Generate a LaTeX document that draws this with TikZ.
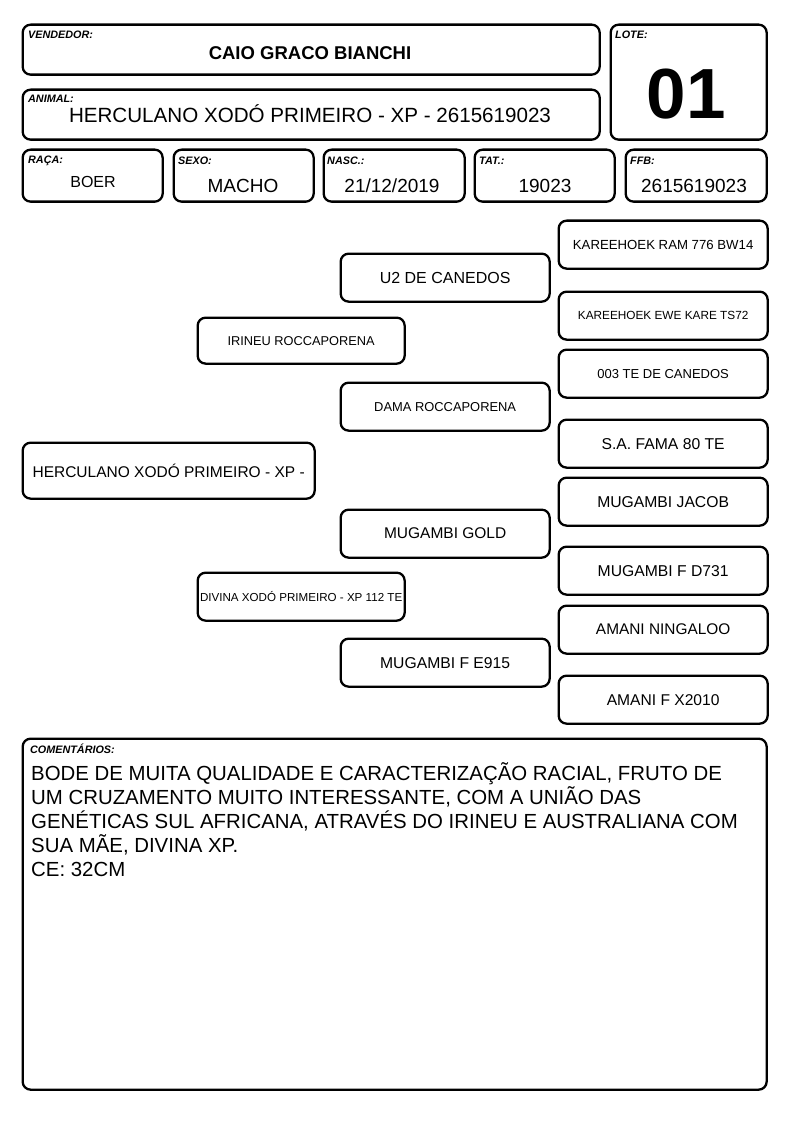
\documentclass[tikz,border=0pt]{standalone}
\usepackage{fontspec}
\setmainfont{Liberation Sans}
\usetikzlibrary{positioning}

\newcommand{\fsz}[1]{\fontsize{#1}{#1}\selectfont}

\tikzset{
  card/.style={draw, line width=2.3pt, rounded corners=8pt, anchor=north west, inner sep=0pt},
  pedbox/.style={card, minimum width=209pt, minimum height=48pt, align=center},
  fieldlbl/.style={anchor=base west, inner sep=0pt, font=\fsz{10.8}\bfseries\itshape},
  fieldval/.style={anchor=base, inner sep=0pt},
}

\begin{document}
\begin{tikzpicture}[x=1pt, y=-1pt]
  \useasboundingbox (0,0) rectangle (794,1123);

  % cabecalho
  \node[card, minimum width=577pt, minimum height=50pt] (vendedor) at (21.5,23.5) {};
  \node[card, minimum width=156pt, minimum height=115pt] (lote) at (609.5,23.5) {};
  \node[card, minimum width=577pt, minimum height=50pt] (animal) at (21.5,88.5) {};
  \node[card, minimum width=140pt, minimum height=52pt] (raca) at (21.5,148.5) {};
  \node[card, minimum width=140pt, minimum height=52pt] (sexo) at (172.5,148.5) {};
  \node[card, minimum width=141pt, minimum height=52pt] (nasc) at (322.5,148.5) {};
  \node[card, minimum width=140pt, minimum height=52pt] (tat) at (473.5,148.5) {};
  \node[card, minimum width=141pt, minimum height=52pt] (ffb) at (624.5,148.5) {};

  \node[fieldlbl] (lblvend) at (28,39) {VENDEDOR:};
  \node[fieldlbl] (lbllote) at (615,39) {LOTE:};
  \node[fieldlbl] (lblanim) at (28,103) {ANIMAL:};
  \node[fieldlbl] (lblraca) at (28,164) {RAÇA:};
  \node[fieldlbl] (lblsexo) at (178,165) {SEXO:};
  \node[fieldlbl] (lblnasc) at (327,165) {NASC.:};
  \node[fieldlbl] (lbltat) at (479,165) {TAT.:};
  \node[fieldlbl] (lblffb) at (630,165) {FFB:};

  \node[fieldval, font=\fsz{18.5}\bfseries] (valvend) at (310,60) {CAIO GRACO BIANCHI};
  \node[fieldval, font=\fsz{71}\bfseries] (vallote) at (686,119) {01};
  \node[fieldval, font=\fsz{20.6}] (valanim) at (310,123) {HERCULANO XODÓ PRIMEIRO - XP - 2615619023};
  \node[fieldval, font=\fsz{16}] (valraca) at (93,188) {BOER};
  \node[fieldval, font=\fsz{19}] (valsexo) at (243,193) {MACHO};
  \node[fieldval, font=\fsz{19}] (valnasc) at (392,193) {21/12/2019};
  \node[fieldval, font=\fsz{19}] (valtat) at (545,193) {19023};
  \node[fieldval, font=\fsz{19}] (valffb) at (694,193) {2615619023};

  % genealogia
  \node[pedbox, minimum width=292pt, minimum height=56pt, font=\fsz{15.5}] (filho) at (21.5,441.5) {HERCULANO XODÓ PRIMEIRO - XP -};
  \node[pedbox, minimum width=207pt, minimum height=46pt, font=\fsz{12.8}] (pai) at (196.5,316.5) {IRINEU ROCCAPORENA};
  \node[pedbox, minimum width=207pt, font=\fsz{11.6}] (mae) at (196.5,571.5) {DIVINA XODÓ PRIMEIRO - XP 112 TE};
  \node[pedbox, font=\fsz{16}] (avopp) at (339.5,252.5) {U2 DE CANEDOS};
  \node[pedbox, font=\fsz{12.9}] (avopm) at (339.5,381.5) {DAMA ROCCAPORENA};
  \node[pedbox, font=\fsz{15.5}] (avomp) at (339.5,508.5) {MUGAMBI GOLD};
  \node[pedbox, font=\fsz{15.7}] (avomm) at (339.5,637.5) {MUGAMBI F E915};
  \node[pedbox, font=\fsz{13.2}] (bis1) at (557.5,219.5) {KAREEHOEK RAM 776 BW14};
  \node[pedbox, font=\fsz{11.8}] (bis2) at (557.5,290.5) {KAREEHOEK EWE KARE TS72};
  \node[pedbox, font=\fsz{13}] (bis3) at (557.5,348.5) {003 TE DE CANEDOS};
  \node[pedbox, font=\fsz{15.7}] (bis4) at (557.5,418.5) {S.A. FAMA 80 TE};
  \node[pedbox, font=\fsz{15.7}] (bis5) at (557.5,476.5) {MUGAMBI JACOB};
  \node[pedbox, font=\fsz{15.7}] (bis6) at (557.5,545.5) {MUGAMBI F D731};
  \node[pedbox, font=\fsz{15.4}] (bis7) at (557.5,604.5) {AMANI NINGALOO};
  \node[pedbox, font=\fsz{15.6}] (bis8) at (557.5,674.5) {AMANI F X2010};

  % comentarios
  \node[card, minimum width=744pt, minimum height=351pt] (coment) at (21.5,737.5) {};
  \node[fieldlbl] (lblcoment) at (30,753) {COMENTÁRIOS:};
  \foreach \linha [count=\i from 0] in {%
      {BODE DE MUITA QUALIDADE E CARACTERIZAÇÃO RACIAL, FRUTO DE},
      {UM CRUZAMENTO MUITO INTERESSANTE, COM A UNIÃO DAS},
      {GENÉTICAS SUL AFRICANA, ATRAVÉS DO IRINEU E AUSTRALIANA COM},
      {SUA MÃE, DIVINA XP.},
      {CE: 32CM}}
    \node[anchor=base west, inner sep=0pt, font=\fsz{20.4}] (txt\i) at (31,780+24*\i) {\linha};
\end{tikzpicture}
\end{document}
